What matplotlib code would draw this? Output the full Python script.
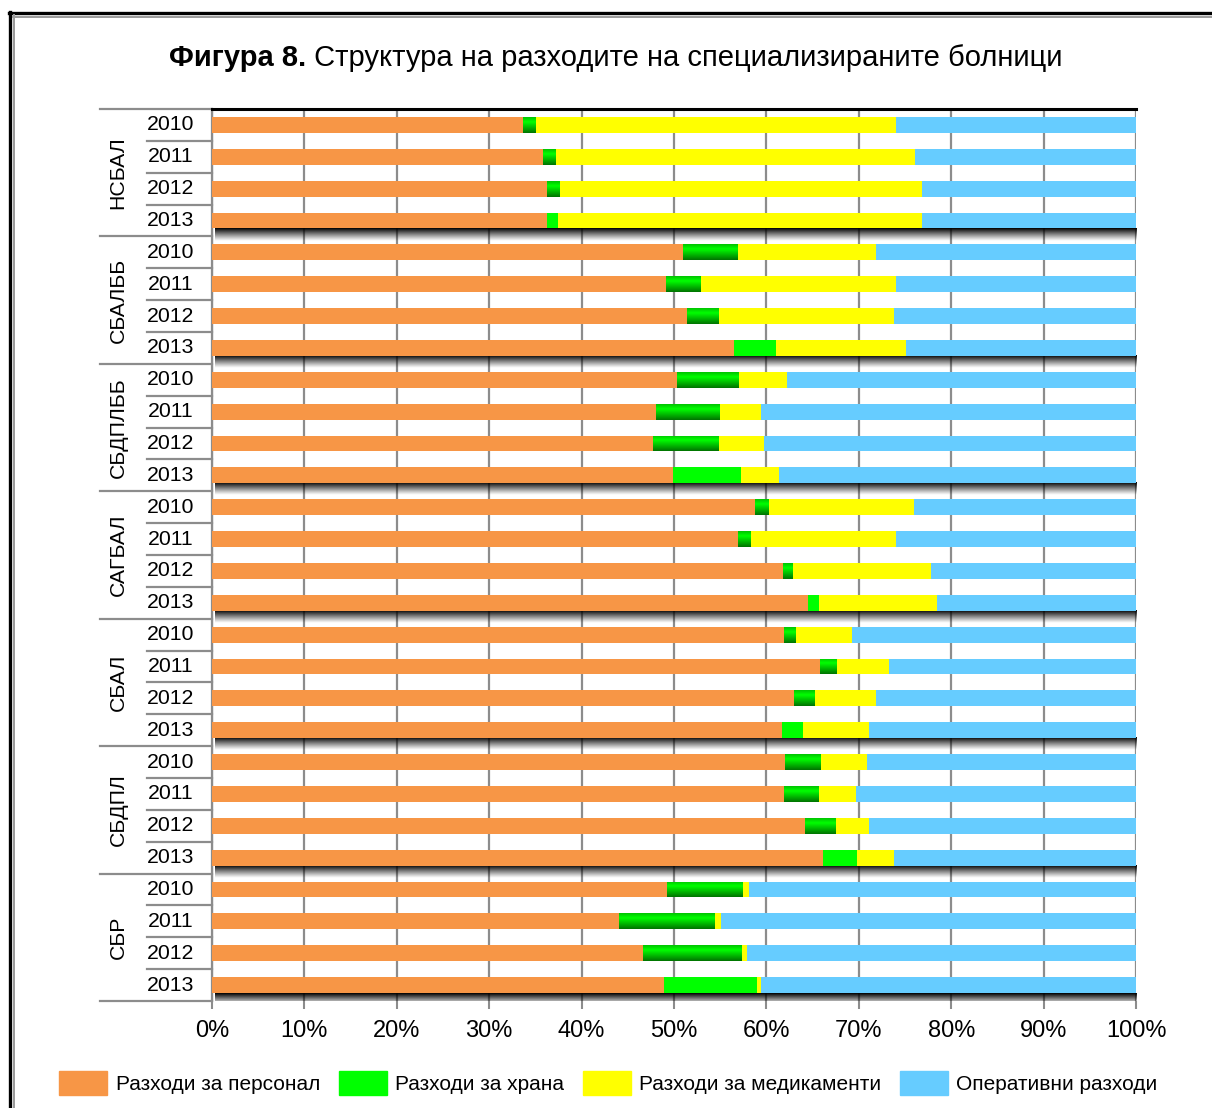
import matplotlib
matplotlib.use('Agg')
import matplotlib.pyplot as plt
from matplotlib import font_manager
from matplotlib.colors import LinearSegmentedColormap
from matplotlib.patches import Patch
from matplotlib.lines import Line2D
from matplotlib.transforms import blended_transform_factory
from matplotlib.ticker import FuncFormatter
import numpy as np

groups = ['НСБАЛ', 'СБАЛББ', 'СБДПЛББ', 'САГБАЛ', 'СБАЛ', 'СБДПЛ', 'СБР']
years = ['2010', '2011', '2012', '2013']

# shares in %, rows go group by group, 2010..2013
personnel = [33.7, 35.8, 36.3, 36.3,
             51.0, 49.1, 51.4, 56.5,
             50.3, 48.0, 47.7, 49.9,
             58.8, 56.9, 61.8, 64.5,
             61.9, 65.8, 63.0, 61.7,
             62.0, 61.9, 64.2, 66.1,
             49.2, 44.0, 46.6, 48.9]
food = [1.3, 1.3, 1.3, 1.1,
        5.9, 3.7, 3.4, 4.5,
        6.7, 6.9, 7.1, 7.4,
        1.5, 1.4, 1.0, 1.2,
        1.2, 1.8, 2.2, 2.3,
        3.8, 3.7, 3.3, 3.7,
        8.2, 10.3, 10.7, 10.1]
medicines = [39.0, 39.0, 39.2, 39.4,
             15.0, 21.2, 19.0, 14.1,
             5.2, 4.5, 4.9, 4.1,
             15.7, 15.7, 15.0, 12.8,
             6.2, 5.7, 6.7, 7.1,
             5.1, 4.1, 3.6, 4.0,
             0.7, 0.8, 0.6, 0.4]
operating = [26.0, 23.9, 23.2, 23.2,
             28.1, 26.0, 26.2, 24.9,
             37.8, 40.6, 40.3, 38.6,
             24.0, 26.0, 22.2, 21.5,
             30.7, 26.7, 28.1, 28.9,
             29.1, 30.3, 28.9, 26.2,
             41.9, 44.9, 42.1, 40.6]

series_names = ['Разходи за персонал', 'Разходи за храна',
                'Разходи за медикаменти', 'Оперативни разходи']
colors = ['#F79646', '#00FF00', '#FFFF00', '#66CCFF']

installed = {f.name for f in font_manager.fontManager.ttflist}
if 'Liberation Sans Narrow' in installed:
    narrow, nscale = 'Liberation Sans Narrow', 1.0
else:
    narrow, nscale = 'Liberation Sans', 0.9
plt.rcParams['font.family'] = ['Liberation Sans', 'DejaVu Sans']

fig = plt.figure(figsize=(12.12, 11.08), dpi=100)
W, H = 1212, 1108
ax = fig.add_axes([212 / W, 1 - 1001 / H, 924 / W, 892 / H])

n = len(groups) * len(years)
ypos = np.arange(n)
left = np.zeros(n)
green_cmap = LinearSegmentedColormap.from_list(
    'g', [(0, '#00c400'), (0.3, '#00ff00'), (1, '#007400')])
grad = np.linspace(0, 1, 60).reshape(-1, 1)

for vals, col, name in zip([personnel, food, medicines, operating], colors, series_names):
    vals = np.array(vals)
    bars = ax.barh(ypos, vals, left=left, height=0.5, color=col, zorder=3)
    if col == '#00FF00':
        for i, b in enumerate(bars):
            if i % 4 == 3:
                continue
            x0, y0, w, h = b.get_x(), b.get_y(), b.get_width(), b.get_height()
            im = ax.imshow(grad, extent=[x0, x0 + w, y0 + h, y0], origin='upper',
                           aspect='auto', cmap=green_cmap, zorder=3.5)
            im.set_clip_path(b)
    left += vals

# drop shadow under the last bar of each group
shadow = np.zeros((40, 1, 4))
shadow[:, 0, 3] = np.linspace(1.0, 0.0, 40) ** 1.1
for g in range(len(groups)):
    r = g * 4 + 3
    ax.imshow(shadow, extent=[0.3, left[r] + 0.4, r + 0.25 + 0.38, r + 0.25],
              origin='upper', aspect='auto', zorder=2.5)

ax.set_xlim(0, 100)
ax.set_ylim(n - 0.5, -0.5)
ax.set_xticks(np.arange(0, 101, 10))
ax.xaxis.set_major_formatter(FuncFormatter(lambda v, p: f'{v:.0f}%'))
ax.set_yticks([])
ax.tick_params(axis='x', length=6, width=1.5, color='#8c8c8c', labelsize=17, pad=8)
ax.xaxis.grid(True, color='#8c8c8c', lw=1.6, zorder=1)
ax.set_axisbelow(True)
for s in ['right', 'bottom']:
    ax.spines[s].set_visible(False)
ax.spines['top'].set_color('black')
ax.spines['top'].set_linewidth(2.2)
ax.spines['left'].set_color('#8c8c8c')
ax.spines['left'].set_linewidth(1.6)

# label table on the left
tr = blended_transform_factory(ax.transAxes, ax.transData)
gx = (100 - 212) / 924
yx = (147 - 212) / 924
for k in range(n + 1):
    x_start = gx if k % 4 == 0 else yx
    ax.add_line(Line2D([x_start, 0], [k - 0.5, k - 0.5], transform=tr,
                       color='#8c8c8c', lw=1.6, clip_on=False))
for i in range(n):
    ax.text((171 - 212) / 924, i, years[i % 4], transform=tr, ha='center', va='center',
            fontsize=17 * nscale, family=narrow)
for g, name in enumerate(groups):
    ax.text((118 - 212) / 924, g * 4 + 1.5, name, transform=tr, rotation=90,
            ha='center', va='center', fontsize=17 * nscale, family=narrow)

# title, bold part + regular part
t1 = fig.text(0, 1 - 58 / H, 'Фигура 8.', fontsize=21, fontweight='bold', va='center')
t2 = fig.text(0, 1 - 58 / H, ' Структура на разходите на специализираните болници',
              fontsize=21, va='center')
fig.canvas.draw()
r = fig.canvas.get_renderer()
w1 = t1.get_window_extent(r).width
w2 = t2.get_window_extent(r).width
x_start = 616 - (w1 + w2) / 2
t1.set_x(x_start / W)
t2.set_x((x_start + w1) / W)

handles = [Patch(color=c, label=nm) for c, nm in zip(colors, series_names)]
fig.legend(handles=handles, loc='center', bbox_to_anchor=(0.502, 1 - 1083 / H), ncol=4,
           frameon=False, prop={'family': narrow, 'size': 15},
           handlelength=2.3, handleheight=1.4, handletextpad=0.4, columnspacing=0.9)

# outer frame
fig.add_artist(Line2D([10 / W, 10 / W], [0, 1 - 12 / H], color='black', lw=2.4))
fig.add_artist(Line2D([9 / W, 1], [1 - 13 / H, 1 - 13 / H], color='black', lw=2.4))
fig.add_artist(Line2D([13.5 / W, 13.5 / W], [0, 1 - 15 / H], color='#9a9a9a', lw=1.4))
fig.add_artist(Line2D([13 / W, 1], [1 - 16.5 / H, 1 - 16.5 / H], color='#9a9a9a', lw=1.4))

fig.savefig('out.png', dpi=100)
